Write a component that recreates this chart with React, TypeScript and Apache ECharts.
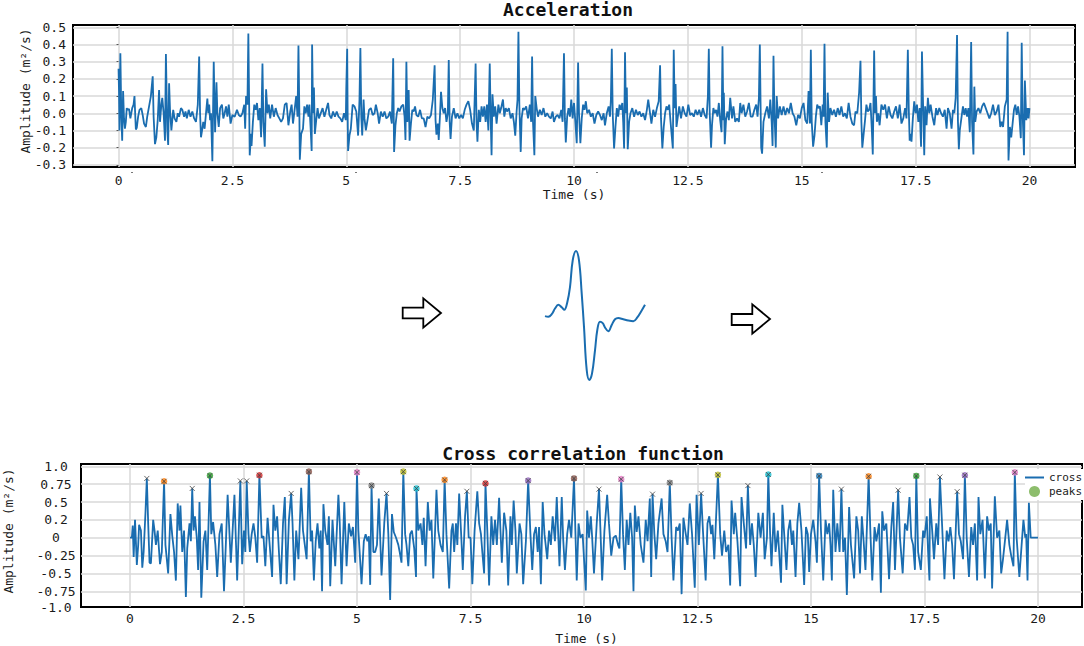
import { useEffect, useRef } from "react";
import * as echarts from "echarts";

const MONO = "'DejaVu Sans Mono', monospace";
const LINE_COLOR = "#1a6db0";
const GRID_COLOR = "#d9d9d9";

// tick positions
const timeTicks = [0, 2.5, 5, 7.5, 10, 12.5, 15, 17.5, 20];
const accelTicks = [-0.3, -0.2, -0.1, 0, 0.1, 0.2, 0.3, 0.4, 0.5];
const crossGridTicks = [-0.75, -0.5, -0.25, 0, 0.25, 0.5, 0.75, 1];
// the "-1.0" label sits on the bottom frame in the picture, "0.25" is cut to "0.2"
const crossLabelTicks = [-0.97, -0.75, -0.5, -0.25, 0, 0.25, 0.5, 0.75, 1];
const crossLabelTexts = ["-1.0", "-0.75", "-0.5", "-0.25", "0", "0.2", "0.5", "0.75", "1.0"];

// [time s, amplitude]
const accelSignal: [number, number][] = [
  [0, 0.26], [0.01, 0.13], [0.02, -0.1], [0.04, 0.35], [0.06, 0], [0.08, -0.16], [0.1, 0.13], [0.12, -0.03], [0.14, -0.09], [0.16, -0.05], [0.18, 0.03], [0.2, 0.02], [0.23, 0.025], [0.26, -0.03], [0.3, 0.03], [0.33, 0.05], [0.35, 0.1], [0.36, 0.03], [0.38, -0.095], [0.4, -0.085], [0.43, -0.02], [0.46, 0.02], [0.5, 0.03], [0.53, -0.01], [0.56, -0.06], [0.6, -0.08], [0.63, -0.02], [0.67, 0.04], [0.71, 0.1], [0.75, 0.215], [0.77, -0.02], [0.8, -0.18], [0.83, -0.14], [0.86, -0.04], [0.89, 0.135], [0.91, -0.05], [0.94, 0.05], [0.96, 0.09], [0.99, 0], [1.02, -0.16], [1.04, 0.345], [1.07, -0.1], [1.09, -0.185], [1.11, 0.175], [1.13, 0.02],
  [1.16, -0.1], [1.2, 0.02], [1.23, -0.03], [1.27, -0.05], [1.3, 0], [1.33, -0.02], [1.37, 0.03], [1.4, 0.02], [1.44, -0.02], [1.47, 0.01], [1.5, -0.03], [1.54, 0.02], [1.58, -0.02], [1.62, 0.01], [1.66, -0.03], [1.7, -0.05], [1.74, 0.05], [1.77, 0.33], [1.79, 0], [1.81, -0.14], [1.84, -0.09], [1.86, -0.05], [1.89, -0.09], [1.92, 0], [1.95, 0.085], [1.97, 0], [1.99, 0.05], [2.01, -0.04], [2.03, 0], [2.06, -0.28], [2.09, 0.3], [2.12, -0.11], [2.15, 0.18], [2.17, 0], [2.2, -0.08], [2.23, 0.03], [2.27, 0.05], [2.3, -0.03], [2.33, 0], [2.36, 0.04], [2.39, -0.02], [2.42, 0.05], [2.46, -0.06], [2.5, -0.01], [2.55, -0.02], [2.6, 0.02], [2.64, -0.01], [2.68, -0.02], [2.72, 0], [2.76, 0.05], [2.78, -0.09], [2.8, 0.1], [2.83, 0.05], [2.85, 0.465], [2.87, 0], [2.88, -0.245], [2.91, -0.12], [2.92, -0.19],
  [2.95, -0.05], [2.98, 0.05], [3.01, 0.02], [3.04, 0.06], [3.07, -0.04], [3.1, 0.03], [3.13, -0.14], [3.16, 0.29], [3.18, -0.05], [3.21, -0.195], [3.24, 0.14], [3.27, 0], [3.3, 0.05], [3.33, -0.03], [3.37, 0.05], [3.41, -0.02], [3.45, 0.03], [3.49, -0.01], [3.53, -0.03], [3.57, -0.05], [3.61, -0.03], [3.65, 0.05], [3.69, 0.06], [3.73, -0.07], [3.77, 0.01], [3.8, 0.05], [3.83, -0.06], [3.87, 0.03], [3.9, 0.1], [3.93, -0.02], [3.95, 0.395], [3.97, 0], [3.98, -0.27], [4.01, -0.12], [4.05, -0.09], [4.08, 0.04], [4.11, 0], [4.14, 0.05], [4.17, -0.02], [4.19, 0.05], [4.22, -0.1], [4.24, -0.22], [4.25, 0.4], [4.27, 0], [4.29, 0.15], [4.31, -0.12], [4.34, -0.04], [4.37, 0.03], [4.4, -0.03], [4.44, 0], [4.48, 0.03], [4.52, -0.02], [4.56, 0.02], [4.6, 0.06], [4.63, -0.01], [4.67, -0.03], [4.71, 0.01], [4.75, -0.02], [4.79, 0.01], [4.83, -0.02], [4.87, -0.03], [4.91, -0.05], [4.95, 0], [4.99, -0.04], [5, 0.14], [5.02, 0.375], [5.03, 0], [5.04, -0.22], [5.07, -0.13], [5.1, -0.09], [5.14, 0.05], [5.18, 0.04], [5.22, 0.01], [5.26, -0.13],
  [5.29, 0.08], [5.31, 0.38], [5.33, -0.02], [5.35, -0.13], [5.38, 0.08], [5.4, -0.03], [5.43, -0.1], [5.46, -0.05], [5.5, 0.02], [5.54, 0.03], [5.58, -0.01], [5.62, 0], [5.65, 0.05], [5.69, 0], [5.72, -0.06], [5.76, 0.01], [5.8, -0.02], [5.84, 0.01], [5.88, -0.03], [5.92, -0.02], [5.96, 0.01], [6, -0.06], [6.03, 0.32], [6.05, -0.225], [6.08, -0.07], [6.11, 0], [6.14, 0.03], [6.17, 0.01], [6.21, 0.04], [6.25, 0.05], [6.28, -0.02], [6.3, -0.155], [6.32, 0.3], [6.34, -0.05], [6.37, 0.135], [6.39, -0.16], [6.42, -0.06], [6.45, 0.02], [6.48, 0.01], [6.51, 0.04], [6.54, -0.01], [6.58, -0.02], [6.62, 0.02], [6.66, -0.03], [6.7, -0.03], [6.74, -0.08], [6.78, -0.02], [6.82, -0.03], [6.86, -0.01], [6.9, 0.08], [6.94, 0.28], [6.96, -0.04], [6.98, -0.125], [7.01, -0.06], [7.03, -0.155], [7.06, 0], [7.08, 0.125], [7.11, 0.03], [7.14, 0], [7.17, 0.03], [7.2, -0.05], [7.23, 0], [7.25, 0.31], [7.27, -0.05], [7.29, -0.15], [7.32, -0.02], [7.36, 0.03], [7.4, -0.03], [7.44, 0], [7.48, -0.03], [7.52, -0.01], [7.56, -0.03], [7.6, 0.02], [7.64, 0.05], [7.68, 0.07], [7.72, 0.02], [7.76, -0.06], [7.8, -0.1],
  [7.84, 0.29], [7.86, -0.05], [7.88, -0.165], [7.91, 0.02], [7.94, -0.05], [7.97, 0.04], [8, -0.02], [8.03, 0.04], [8.06, -0.05], [8.09, 0.05], [8.12, -0.1], [8.15, 0.29], [8.17, -0.02], [8.19, -0.245], [8.21, 0.11], [8.24, -0.02], [8.27, 0.04], [8.3, -0.06], [8.34, 0.05], [8.37, 0], [8.4, 0.03], [8.44, 0.08], [8.47, -0.02], [8.5, 0.03], [8.53, 0.01], [8.57, 0.03], [8.61, -0.03], [8.65, 0], [8.68, -0.05], [8.71, -0.13], [8.74, 0.01], [8.76, 0.08], [8.78, 0.475], [8.8, 0.05], [8.83, -0.225], [8.85, -0.03], [8.88, 0.03], [8.91, 0.02], [8.95, 0.04], [8.99, -0.03], [9.03, 0.05], [9.06, -0.05], [9.08, 0.33], [9.1, -0.05], [9.13, -0.245], [9.15, 0.1], [9.18, 0.03], [9.21, -0.02], [9.25, 0.02], [9.29, -0.01], [9.33, 0.03], [9.37, -0.02], [9.41, 0], [9.45, -0.02], [9.49, -0.03], [9.53, 0.01], [9.56, -0.05], [9.6, -0.02], [9.64, -0.01], [9.68, -0.03], [9.72, 0.02], [9.75, -0.05], [9.78, 0.35], [9.8, -0.03], [9.82, -0.17], [9.85, -0.02], [9.88, 0.03], [9.91, -0.02], [9.94, 0.08], [9.97, -0.03], [10, 0.06], [10.03, -0.05], [10.06, -0.175], [10.09, 0.295], [10.11, 0], [10.14, -0.175], [10.17, -0.03], [10.2, 0.05], [10.23, 0.02], [10.26, 0.07], [10.29, 0], [10.33, 0.02], [10.37, -0.02], [10.41, 0], [10.45, -0.06],
  [10.49, -0.01], [10.53, 0.01], [10.57, -0.01], [10.61, -0.04], [10.65, 0], [10.68, -0.07], [10.72, 0], [10.76, 0.04], [10.79, -0.02], [10.81, 0.08], [10.83, 0.375], [10.85, 0], [10.88, -0.205], [10.91, -0.08], [10.94, 0.03], [10.97, -0.02], [11, 0.05], [11.03, 0.02], [11.06, 0.06], [11.08, -0.05], [11.1, -0.205], [11.12, 0.355], [11.14, 0], [11.16, 0.15], [11.18, -0.21], [11.21, -0.05], [11.24, 0], [11.28, 0.03], [11.32, -0.02], [11.36, 0.02], [11.4, -0.01], [11.44, 0.01], [11.48, -0.02], [11.52, 0], [11.56, -0.04], [11.6, 0.02], [11.63, 0.08], [11.67, 0], [11.7, -0.06], [11.74, 0.02], [11.78, -0.02], [11.82, 0.03], [11.86, 0.07], [11.89, 0.28], [11.91, -0.03], [11.94, -0.205], [11.97, -0.08], [12, 0], [12.03, 0.04], [12.06, 0.02], [12.09, 0.05], [12.12, -0.05], [12.17, -0.205], [12.19, 0.37], [12.21, 0.03], [12.23, 0.17], [12.25, -0.08], [12.28, -0.02], [12.31, 0.04], [12.35, -0.03], [12.39, 0.04], [12.43, 0], [12.47, -0.02], [12.51, 0.05], [12.55, -0.01], [12.59, 0], [12.63, -0.02], [12.67, 0.02], [12.71, -0.01], [12.75, 0.02], [12.79, -0.02], [12.83, 0.03], [12.87, -0.01], [12.91, -0.03], [12.94, 0.1], [12.96, 0.375], [12.98, 0], [13.01, -0.2], [13.03, -0.07], [13.06, 0.03], [13.09, 0],
  [13.12, 0.02], [13.15, -0.02], [13.18, 0.06], [13.21, -0.04], [13.24, -0.11], [13.26, 0.39], [13.28, -0.04], [13.29, 0.12], [13.31, -0.18], [13.34, -0.03], [13.37, 0.01], [13.4, -0.04], [13.43, 0.09], [13.47, -0.03], [13.5, 0.04], [13.54, -0.05], [13.58, -0.03], [13.62, -0.05], [13.65, 0.06], [13.68, 0], [13.72, 0.05], [13.76, -0.02], [13.8, 0.01], [13.84, 0.06], [13.88, -0.02], [13.92, -0.02], [13.96, 0.02], [14, 0.05], [14.03, -0.02], [14.06, 0.09], [14.08, 0.4], [14.1, -0.02], [14.11, -0.2], [14.13, -0.235], [14.16, -0.05], [14.2, 0], [14.24, 0.04], [14.28, -0.03], [14.31, 0.08], [14.34, -0.05], [14.36, -0.19], [14.38, 0.335], [14.4, 0], [14.43, -0.2], [14.45, 0.1], [14.48, -0.03], [14.52, 0.04], [14.56, -0.01], [14.6, 0.04], [14.64, -0.01], [14.68, 0.03], [14.72, 0], [14.76, 0.06], [14.8, 0], [14.84, -0.02], [14.88, -0.07], [14.92, -0.01], [14.96, -0.03], [15, 0.03], [15.04, 0.06], [15.08, -0.04], [15.12, -0.06], [15.15, 0.13], [15.18, -0.06], [15.2, 0.37], [15.22, -0.05], [15.25, -0.195], [15.28, -0.13], [15.31, -0.02], [15.34, 0.05], [15.37, 0.03], [15.4, 0.04], [15.43, -0.07], [15.46, 0.05], [15.48, -0.02], [15.5, 0.405], [15.52, -0.05], [15.55, -0.2], [15.57, 0.12], [15.6, -0.05], [15.63, 0.03], [15.67, -0.01], [15.71, 0.02], [15.75, -0.02], [15.79, 0.03],
  [15.83, -0.01], [15.87, 0.04], [15.91, -0.02], [15.95, 0], [15.99, -0.03], [16.03, 0.06], [16.07, -0.02], [16.11, -0.06], [16.15, -0.07], [16.18, 0.01], [16.22, 0], [16.26, 0.12], [16.29, 0.305], [16.31, -0.05], [16.33, -0.2], [16.36, -0.12], [16.39, -0.04], [16.42, 0.05], [16.45, 0.01], [16.48, 0.02], [16.51, 0.06], [16.54, -0.1], [16.56, -0.24], [16.59, 0.365], [16.61, 0], [16.63, 0.1], [16.65, -0.05], [16.68, 0], [16.71, -0.07], [16.75, 0.05], [16.79, 0.02], [16.83, 0.05], [16.87, -0.03], [16.91, 0.04], [16.95, -0.01], [16.99, -0.03], [17.03, 0.01], [17.07, 0.04], [17.11, -0.03], [17.15, 0.05], [17.19, -0.06], [17.23, -0.03], [17.27, 0.03], [17.3, -0.03], [17.33, 0.37], [17.35, 0.03], [17.37, -0.16], [17.39, -0.12], [17.41, -0.165], [17.44, -0.03], [17.47, 0.07], [17.5, 0], [17.53, 0.05], [17.56, -0.05], [17.59, 0.03], [17.62, -0.195], [17.64, 0.36], [17.66, 0.1], [17.69, -0.245], [17.71, 0.04], [17.74, -0.07], [17.77, 0.09], [17.8, 0], [17.83, 0.05], [17.87, -0.02], [17.91, -0.07], [17.95, 0.03], [17.98, -0.01], [18.02, 0.03], [18.06, 0], [18.1, -0.02], [18.14, 0.02], [18.18, -0.09], [18.21, 0.03], [18.25, 0], [18.29, -0.09], [18.32, 0.02], [18.35, 0], [18.38, 0.09], [18.41, 0.455], [18.43, -0.05], [18.45, -0.21], [18.47, -0.1], [18.5, -0.04],
  [18.54, 0.04], [18.57, -0.01], [18.6, 0.03], [18.63, -0.02], [18.66, 0.03], [18.69, -0.11], [18.72, 0.415], [18.74, -0.05], [18.77, -0.24], [18.79, 0.155], [18.81, -0.05], [18.84, 0.01], [18.88, 0.03], [18.92, 0], [18.96, 0.04], [19, 0.06], [19.04, 0.03], [19.08, 0], [19.12, -0.03], [19.16, 0], [19.2, 0.05], [19.24, -0.01], [19.28, 0.01], [19.32, 0.05], [19.36, -0.08], [19.39, -0.05], [19.42, -0.08], [19.46, 0.04], [19.5, 0.08], [19.52, 0.475], [19.53, 0], [19.54, -0.275], [19.57, -0.08], [19.6, -0.14], [19.63, -0.06], [19.66, 0.02], [19.69, 0.05], [19.72, -0.01], [19.75, 0.04], [19.78, -0.02], [19.81, -0.145], [19.83, 0.41], [19.85, 0], [19.88, -0.245], [19.9, 0.19], [19.93, -0.04], [19.96, 0.03], [19.98, -0.03], [20, 0.03],
];

// wavelet in the middle: position along the template 0..1, amplitude normalised
const waveletPos = [0, 0.033, 0.067, 0.1, 0.133, 0.167, 0.193, 0.223, 0.25, 0.277, 0.31, 0.34, 0.367, 0.39, 0.417, 0.443, 0.47, 0.5, 0.523, 0.55, 0.577, 0.6, 0.633, 0.667, 0.7, 0.733, 0.783, 0.833, 0.883, 0.923, 0.967, 1];
const waveletAmp = [-0.04, -0.05, -0.01, 0.08, 0.14, 0.1, 0.06, 0.18, 0.42, 0.84, 0.99, 0.84, 0.32, -0.21, -0.89, -1.05, -0.95, -0.58, -0.26, -0.13, -0.15, -0.22, -0.28, -0.18, -0.09, -0.07, -0.09, -0.11, -0.12, -0.06, 0.05, 0.14];

// [time s, amplitude]
const crossSignal: [number, number][] = [
  [0, 0], [0.04, 0], [0.06, 0.17], [0.08, -0.27], [0.11, 0.25], [0.15, -0.38], [0.18, -0.1], [0.2, 0.18], [0.24, 0.1], [0.27, -0.42], [0.3, -0.2], [0.34, 0.35], [0.37, 0.83], [0.4, 0.2], [0.43, -0.35], [0.46, -0.36], [0.51, 0.25], [0.54, 0.1], [0.57, -0.1], [0.61, 0.1], [0.66, -0.37], [0.7, -0.2], [0.75, 0.79], [0.78, -0.1], [0.84, -0.5], [0.89, 0.33], [0.93, 0.03], [0.97, -0.2], [1.01, -0.6], [1.05, 0.48], [1.09, 0.1], [1.11, 0.45], [1.15, -0.2], [1.19, 0.1], [1.23, -0.83], [1.26, -0.15], [1.31, 0.2], [1.34, -0.05], [1.37, 0.69], [1.4, 0.1], [1.43, 0.3], [1.47, 0], [1.5, -0.45], [1.53, 0.5], [1.57, -0.84], [1.62, -0.05], [1.66, 0.1], [1.7, -0.45], [1.76, 0.87], [1.79, 0.05], [1.83, 0.22], [1.88, -0.1], [1.92, -0.55], [1.97, 0.05], [2.02, 0.2], [2.07, -0.75], [2.11, -0.1], [2.15, 0.6], [2.18, 0.2], [2.22, -0.35], [2.26, 0.1], [2.3, 0.6], [2.33, 0], [2.36, -0.6], [2.43, 0.795], [2.47, -0.37], [2.51, 0.1], [2.54, -0.2], [2.57, 0.795], [2.61, 0.05], [2.64, -0.2], [2.68, 0.05], [2.72, 0.2], [2.76, 0],
  [2.8, -0.35], [2.85, 0.875], [2.9, 0], [2.94, 0.02], [2.98, -0.4], [3.03, 0.28], [3.07, -0.05], [3.13, -0.55], [3.16, 0.46], [3.2, 0.1], [3.24, 0.3], [3.28, -0.2], [3.32, -0.65], [3.37, 0.2], [3.41, 0.57], [3.45, -0.65], [3.5, 0.25], [3.55, 0.62], [3.58, 0.2], [3.62, -0.6], [3.66, 0.1], [3.71, -0.3], [3.77, 0.7], [3.81, 0.1], [3.85, -0.1], [3.89, -0.3], [3.94, 0.925], [3.98, -0.05], [4.01, 0.1], [4.05, -0.6], [4.09, -0.05], [4.13, 0.2], [4.17, -0.15], [4.2, 0.1], [4.23, -0.75], [4.26, 0.47], [4.3, 0.1], [4.35, -0.1], [4.38, 0.3], [4.41, -0.68], [4.46, 0.25], [4.52, -0.4], [4.59, 0.6], [4.62, 0.2], [4.66, -0.65], [4.72, 0.5], [4.77, -0.4], [4.82, 0.2], [4.87, 0.02], [4.91, 0.15], [4.96, -0.35], [5, 0.915],
  [5.03, 0.1], [5.1, -0.65], [5.15, -0.05], [5.19, 0.05], [5.23, -0.05], [5.26, 0.02], [5.29, -0.66], [5.32, 0.73], [5.36, -0.2], [5.4, -0.2], [5.44, -0.1], [5.48, 0.55], [5.54, -0.53], [5.6, 0.2], [5.65, 0.62], [5.69, 0.05], [5.73, -0.87], [5.77, 0.33], [5.81, 0.08], [5.86, 0], [5.91, -0.1], [5.94, -0.2], [5.98, -0.35], [6.02, 0.925], [6.06, 0.05], [6.09, -0.1], [6.13, -0.4], [6.17, 0.05], [6.21, 0.1], [6.26, -0.15], [6.3, -0.55], [6.31, 0.69], [6.35, 0.1], [6.4, 0.2], [6.44, -0.1], [6.47, 0.28], [6.51, -0.4], [6.56, 0.5], [6.6, 0.1], [6.64, 0.25], [6.68, -0.57], [6.72, 0.1], [6.75, 0.67], [6.79, 0.1], [6.84, -0.1], [6.89, -0.2], [6.93, 0.81], [6.97, 0.05], [7.03, -0.71], [7.08, 0.1], [7.11, 0.2], [7.14, -0.2], [7.18, 0.2], [7.21, -0.1], [7.25, 0.62], [7.29, 0.1], [7.33, -0.45], [7.38, 0.3], [7.42, 0.65], [7.46, 0], [7.5, 0], [7.54, -0.65],
  [7.59, 0.1], [7.65, 0.65], [7.69, 0.2], [7.73, 0.05], [7.76, -0.2], [7.8, -0.5], [7.83, 0.76], [7.87, 0.1], [7.91, -0.67], [7.96, 0.3], [8, -0.1], [8.04, 0.25], [8.08, -0.1], [8.13, 0.56], [8.16, 0.1], [8.19, -0.35], [8.24, 0.35], [8.29, 0.1], [8.33, -0.67], [8.38, 0.3], [8.41, -0.1], [8.45, 0.52], [8.49, 0.1], [8.52, -0.5], [8.58, 0.2], [8.62, 0.05], [8.66, -0.65], [8.72, -0.05], [8.77, 0.8], [8.82, 0.05], [8.86, -0.45], [8.9, 0.05], [8.94, 0.15], [8.98, -0.2], [9.01, 0.15], [9.05, -0.65], [9.09, 0.5], [9.13, 0.05], [9.19, -0.3], [9.23, 0.1], [9.27, -0.1], [9.31, 0.3], [9.36, -0.05], [9.4, 0.57], [9.46, -0.4], [9.51, 0.57], [9.54, 0], [9.58, -0.45], [9.63, 0.05], [9.67, 0.25], [9.72, 0], [9.78, 0.83], [9.81, 0.1], [9.84, -0.6], [9.88, 0.2], [9.92, 0], [9.97, 0.05], [10.04, -0.74], [10.07, 0.38], [10.11, 0], [10.15, 0.3], [10.18, 0], [10.22, -0.5], [10.28, 0.2], [10.33, 0.68], [10.36, 0.15], [10.4, -0.6], [10.45, 0.1], [10.51, 0.6], [10.55, 0.2], [10.6, -0.25], [10.65, 0], [10.7, 0.03], [10.75, -0.1], [10.78, -0.15], [10.82, 0.82],
  [10.86, 0.05], [10.9, -0.45], [10.94, 0.25], [10.98, -0.1], [11.02, 0.35], [11.06, 0], [11.09, -0.75], [11.12, 0.45], [11.16, 0.08], [11.2, 0.3], [11.25, -0.1], [11.31, -0.35], [11.36, 0.25], [11.4, -0.05], [11.45, 0.55], [11.48, -0.55], [11.51, 0.61], [11.55, 0.05], [11.59, -0.3], [11.64, 0.2], [11.71, 0.55], [11.75, 0.05], [11.8, -0.05], [11.84, -0.2], [11.89, 0.77], [11.93, 0], [11.97, -0.6], [12.03, 0.15], [12.07, 0.1], [12.11, 0.2], [12.15, -0.79], [12.19, 0.28], [12.23, 0.1], [12.28, -0.1], [12.33, 0.48], [12.38, 0.05], [12.44, -0.7], [12.48, 0.6], [12.53, -0.1], [12.58, 0.62], [12.62, 0.1], [12.68, -0.6], [12.72, 0.2], [12.76, 0.3], [12.8, 0.05], [12.83, 0.18], [12.87, -0.3], [12.95, 0.88], [13, 0.05], [13.04, -0.25], [13.09, 0.1], [13.13, -0.2], [13.18, -0.1], [13.22, -0.67], [13.25, 0.52], [13.3, 0.05], [13.33, 0.35], [13.38, -0.05], [13.44, -0.68], [13.47, 0.57], [13.52, 0.2], [13.57, -0.15], [13.61, 0.73], [13.66, -0.1], [13.7, 0.2], [13.74, -0.1], [13.78, -0.55], [13.84, 0.35],
  [13.89, 0], [13.94, 0.35], [13.98, -0.3], [14.03, 0], [14.06, 0.885], [14.1, 0.05], [14.13, -0.4], [14.18, 0.35], [14.22, -0.2], [14.27, 0.1], [14.34, -0.63], [14.37, 0.46], [14.41, 0.05], [14.46, -0.45], [14.5, 0.1], [14.54, 0.25], [14.58, -0.1], [14.61, 0.1], [14.66, -0.55], [14.7, 0.2], [14.74, 0.49], [14.79, 0.1], [14.85, -0.66], [14.89, 0.15], [14.93, 0.05], [14.96, -0.48], [15, 0.05], [15.05, 0.25], [15.1, -0.05], [15.13, -0.35], [15.18, 0.865], [15.22, 0.1], [15.27, -0.6], [15.32, 0.25], [15.36, 0.05], [15.4, 0.2], [15.43, -0.1], [15.46, -0.6], [15.49, 0.67], [15.54, -0.2], [15.58, 0.2], [15.63, -0.2], [15.67, 0.68], [15.71, -0.2], [15.75, 0], [15.79, -0.8], [15.84, 0.43], [15.88, -0.1], [15.95, -0.57], [16, 0.3], [16.04, 0.1], [16.08, -0.5], [16.12, 0.3], [16.16, -0.05], [16.2, -0.45], [16.27, 0.86], [16.31, 0.05], [16.35, -0.6], [16.4, 0.15], [16.44, -0.05], [16.5, 0.2], [16.54, -0.77], [16.57, 0.37], [16.61, 0.1], [16.66, 0.2], [16.72, -0.58], [16.77, 0.15], [16.81, 0.5], [16.85, -0.45], [16.92, 0.665], [16.96, 0], [17.02, -0.5], [17.07, 0.2], [17.12, 0.1],
  [17.17, 0.57], [17.21, 0], [17.25, -0.1], [17.29, -0.45], [17.32, 0.865], [17.36, -0.2], [17.42, -0.45], [17.47, 0.1], [17.5, 0], [17.55, 0.3], [17.58, -0.2], [17.61, -0.6], [17.62, 0.55], [17.67, 0.1], [17.71, -0.3], [17.76, 0.2], [17.8, -0.1], [17.84, 0.85], [17.89, 0.15], [17.94, -0.58], [17.99, 0.1], [18.03, -0.05], [18.07, 0.15], [18.11, -0.1], [18.15, -0.58], [18.22, 0.645], [18.26, 0.05], [18.3, -0.05], [18.35, -0.3], [18.39, 0.875], [18.43, 0], [18.48, -0.55], [18.53, 0.15], [18.57, -0.1], [18.61, 0.2], [18.66, -0.6], [18.69, 0.57], [18.73, 0.05], [18.78, 0.25], [18.83, -0.57], [18.88, 0.3], [18.92, 0.1], [18.96, 0.2], [18.99, -0.71], [19.05, 0.58], [19.1, 0], [19.15, 0.1], [19.19, -0.5], [19.23, -0.3], [19.28, 0], [19.32, 0.25], [19.37, -0.1], [19.41, -0.25], [19.46, -0.4], [19.49, 0.915], [19.53, 0], [19.59, -0.55], [19.64, -0.1], [19.68, 0.25], [19.72, 0], [19.74, 0.05], [19.77, -0.6], [19.8, 0.49], [19.84, 0], [20, 0],
];

// [time s, amplitude] of every detected peak
const crossCandidates: [number, number][] = [
  [0.37, 0.83], [0.75, 0.79], [1.37, 0.69], [1.76, 0.87], [2.43, 0.795], [2.57, 0.795], [2.85, 0.875], [3.55, 0.62], [3.94, 0.925], [5, 0.915], [5.32, 0.73], [5.65, 0.62], [6.02, 0.925], [6.31, 0.69], [6.93, 0.81], [7.42, 0.65], [7.83, 0.76], [8.77, 0.8], [9.78, 0.83], [10.33, 0.68], [10.82, 0.82], [11.51, 0.61], [11.89, 0.77], [12.58, 0.62], [12.95, 0.88], [13.61, 0.73], [14.06, 0.885], [15.18, 0.865], [15.67, 0.68], [16.27, 0.86], [16.92, 0.665], [17.32, 0.865], [17.84, 0.85], [18.22, 0.645], [18.39, 0.875], [19.49, 0.915],
];
// the picked ones get a coloured dot
const crossPeaks: [number, number][] = [
  [0.75, 0.79], [1.76, 0.87], [2.85, 0.875], [3.94, 0.925], [5, 0.915], [5.32, 0.73], [6.02, 0.925], [6.31, 0.69], [6.93, 0.81], [7.83, 0.76], [8.77, 0.8], [9.78, 0.83], [10.82, 0.82], [11.89, 0.77], [12.95, 0.88], [14.06, 0.885], [15.18, 0.865], [16.27, 0.86], [17.32, 0.865], [18.39, 0.875], [19.49, 0.915],
];
const peakColors = ["#ff7f0e", "#2ca02c", "#d62728", "#8c564b", "#e377c2", "#7f7f7f", "#bcbd22", "#17becf", "#ff7f0e", "#d62728", "#9467bd", "#8c564b", "#e377c2", "#7f7f7f", "#bcbd22", "#17becf", "#1f77b4", "#ff7f0e", "#2ca02c", "#9467bd", "#e377c2"];

const CROSS_MARK = "path://M0 0L10 10M10 0L0 10";

function arrow(points: number[][]) {
  return {
    type: "polygon",
    shape: { points },
    style: { fill: "#fff", stroke: "#000", lineWidth: 1.8 },
  };
}

function speck(x: number, y: number) {
  return { type: "rect", shape: { x, y, width: 2, height: 1 }, style: { fill: "#777" } };
}

function buildOption(): any {
  const tickLabel = { fontFamily: MONO, fontSize: 13, color: "#1a1a1a" };
  const axisName = { fontFamily: MONO, fontSize: 13, color: "#1a1a1a" };
  const gridLine = { show: true, lineStyle: { color: GRID_COLOR, width: 1.5 } };
  const titleStyle = { fontFamily: MONO, fontSize: 18, fontWeight: "bold", color: "#111" };

  return {
    animation: false,
    backgroundColor: "#fff",
    title: [
      { text: "Acceleration", left: 568, top: 0, padding: 0, textAlign: "center", textStyle: titleStyle },
      { text: "Cross correlation function", left: 583, top: 444, padding: 0, textAlign: "center", textStyle: titleStyle },
    ],
    legend: {
      orient: "vertical",
      left: 1025,
      top: 469,
      padding: [3, 2, 3, 0],
      itemGap: 3,
      itemWidth: 19,
      itemHeight: 11,
      backgroundColor: "#fff",
      textStyle: { fontFamily: MONO, fontSize: 11, color: "#222" },
      data: [
        { name: "cross", icon: "path://M0 0H19V2H0Z" },
        { name: "peaks", icon: "circle", itemStyle: { color: "#70ad47" } },
      ],
    },
    grid: [
      { left: 73, top: 25, width: 1002, height: 142, show: true, borderColor: "#000", borderWidth: 2, outerBoundsMode: "none" },
      { left: 545, top: 251, width: 100, height: 129, outerBoundsMode: "none" },
      { left: 81, top: 464, width: 1001, height: 143, show: true, borderColor: "#000", borderWidth: 2, outerBoundsMode: "none" },
    ],
    xAxis: [
      {
        gridIndex: 0,
        type: "value",
        min: -1,
        max: 21,
        name: "Time (s)",
        nameLocation: "middle",
        nameGap: 21,
        nameTextStyle: axisName,
        axisLine: { show: false },
        axisTick: { show: false, customValues: timeTicks },
        axisLabel: { ...tickLabel, customValues: timeTicks, margin: 7 },
        splitLine: gridLine,
      },
      {
        gridIndex: 1,
        type: "value",
        min: 0,
        max: 1,
        show: false,
        splitLine: { show: false },
      },
      {
        gridIndex: 2,
        type: "value",
        min: -1.08,
        max: 20.97,
        name: "Time (s)",
        nameLocation: "middle",
        nameGap: 25,
        nameTextStyle: { ...axisName, padding: [0, 0, 0, 10] },
        axisLine: { show: false },
        axisTick: { show: false, customValues: timeTicks },
        axisLabel: { ...tickLabel, customValues: timeTicks, margin: 5 },
        splitLine: gridLine,
      },
    ],
    yAxis: [
      {
        gridIndex: 0,
        type: "value",
        min: -0.313,
        max: 0.514,
        name: "Amplitude (m²/s)",
        nameLocation: "middle",
        nameGap: 41,
        nameMoveOverlap: false,
        nameTextStyle: { ...axisName, padding: [0, 0, 0, 10] },
        axisLine: { show: false },
        axisTick: { show: true, length: 2, customValues: accelTicks, lineStyle: { color: "#555" } },
        axisLabel: {
          ...tickLabel,
          customValues: accelTicks,
          margin: 7,
          formatter: (v: number) => v.toFixed(1),
        },
        splitLine: gridLine,
      },
      {
        gridIndex: 1,
        type: "value",
        min: -1.05,
        max: 0.99,
        show: false,
        splitLine: { show: false },
      },
      {
        gridIndex: 2,
        type: "value",
        min: -0.97,
        max: 1.032,
        name: "Amplitude (m²/s)",
        nameLocation: "middle",
        nameGap: 66,
        nameMoveOverlap: false,
        nameTextStyle: { ...axisName, padding: [0, 0, 0, 9] },
        axisLine: { show: false },
        axisTick: { show: false, customValues: crossGridTicks },
        axisLabel: {
          ...tickLabel,
          customValues: crossLabelTicks,
          align: "center",
          margin: 25,
          formatter: (v: number) => crossLabelTexts[crossLabelTicks.indexOf(v)],
        },
        splitLine: gridLine,
      },
    ],
    series: [
      {
        name: "acceleration",
        type: "line",
        xAxisIndex: 0,
        yAxisIndex: 0,
        data: accelSignal,
        symbol: "none",
        lineStyle: { color: LINE_COLOR, width: 1.8 },
      },
      {
        name: "wavelet",
        type: "line",
        xAxisIndex: 1,
        yAxisIndex: 1,
        data: waveletPos.map((p, i) => [p, waveletAmp[i]]),
        symbol: "none",
        smooth: 0.4,
        lineStyle: { color: LINE_COLOR, width: 2 },
      },
      {
        name: "cross",
        type: "line",
        xAxisIndex: 2,
        yAxisIndex: 2,
        data: crossSignal,
        symbol: "none",
        itemStyle: { color: LINE_COLOR },
        lineStyle: { color: LINE_COLOR, width: 1.8 },
      },
      {
        name: "peaks",
        type: "scatter",
        xAxisIndex: 2,
        yAxisIndex: 2,
        symbolSize: 6.5,
        data: crossPeaks.map((p, i) => ({ value: p, itemStyle: { color: peakColors[i] } })),
        itemStyle: { color: "#70ad47" },
        z: 3,
      },
      {
        name: "candidates",
        type: "scatter",
        xAxisIndex: 2,
        yAxisIndex: 2,
        symbol: CROSS_MARK,
        symbolSize: 5,
        data: crossCandidates,
        itemStyle: { color: "none", borderColor: "#444", borderWidth: 1 },
        z: 4,
      },
    ],
    graphic: [
      arrow([[402.7, 307.7], [423.3, 307.7], [423.3, 298.3], [441, 313], [423.3, 327.7], [423.3, 318.3], [402.7, 318.3]]),
      arrow([[731.7, 314], [752.3, 314], [752.3, 304.3], [770, 319], [752.3, 333.7], [752.3, 325], [731.7, 325]]),
      speck(131, 172),
      speck(355, 172),
      speck(596, 172),
      speck(821, 172),
    ],
  };
}

export default function App() {
  const chartRef = useRef<HTMLDivElement>(null);

  useEffect(() => {
    if (!chartRef.current) return;
    const chart = echarts.init(chartRef.current, undefined, { renderer: "svg" });
    chart.setOption(buildOption());
    return () => chart.dispose();
  }, []);

  return (
    <div
      ref={chartRef}
      style={{ position: "absolute", left: 0, top: 0, width: 1084, height: 646 }}
    />
  );
}
